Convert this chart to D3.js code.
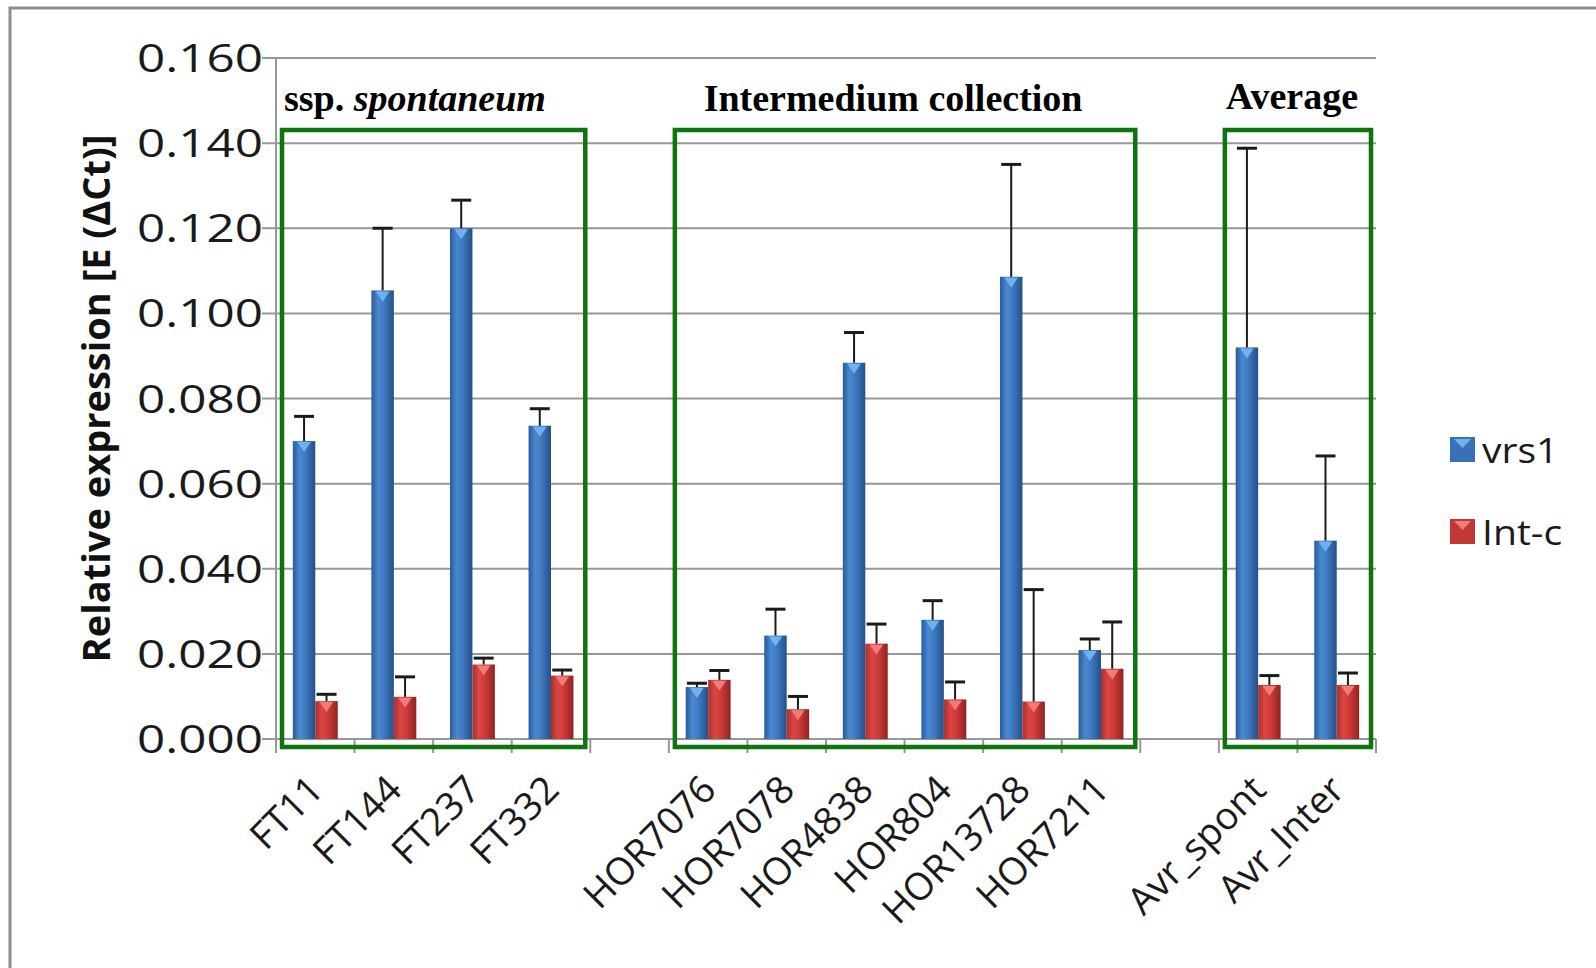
<!DOCTYPE html>
<html>
<head>
<meta charset="utf-8">
<script src="https://cdn.jsdelivr.net/npm/d3@7"></script>
<style>
  html, body { margin: 0; padding: 0; background: #fff; }
  svg { display: block; }
</style>
</head>
<body>
<div id="chart"></div>
<script>
// categories (empty strings are the spacer slots between groups)
const categories = ["FT11", "FT144", "FT237", "FT332", "",
    "HOR7076", "HOR7078", "HOR4838", "HOR804", "HOR13728", "HOR7211", "",
    "Avr_spont", "Avr_Inter"];

// vrs1 means and upper error
const vrs1 = [0.0700, 0.1054, 0.1200, 0.0736, null,
    0.0122, 0.0243, 0.0884, 0.0280, 0.1086, 0.0209, null,
    0.0920, 0.0466];
const vrs1Err = [0.0058, 0.0146, 0.0066, 0.0040, null,
    0.0009, 0.0062, 0.0071, 0.0045, 0.0264, 0.0026, null,
    0.0468, 0.0199];

// Int-c means and upper error
const intc = [0.0089, 0.0099, 0.0175, 0.0149, null,
    0.0139, 0.0070, 0.0224, 0.0093, 0.0088, 0.0165, null,
    0.0127, 0.0127];
const intcErr = [0.0016, 0.0047, 0.0015, 0.0013, null,
    0.0022, 0.0030, 0.0046, 0.0041, 0.0263, 0.0110, null,
    0.0022, 0.0028];

const yTicks = [0, 0.02, 0.04, 0.06, 0.08, 0.10, 0.12, 0.14, 0.16];

const seriesNames = ["vrs1", "Int-c"];

// groups: label, first and last category index
const groupNames = ["ssp. ", "Intermedium collection", "Average"];
const groupFirst = [0, 5, 12];
const groupLast = [3, 10, 13];

const width = 1596, height = 968;
const svg = d3.select("#chart").append("svg")
    .attr("width", width)
    .attr("height", height);

const defs = svg.append("defs");
function barGradient(id, stops) {
    const g = defs.append("linearGradient").attr("id", id)
        .attr("x1", "0%").attr("x2", "100%").attr("y1", "0%").attr("y2", "0%");
    stops.forEach(s => g.append("stop").attr("offset", s[0]).attr("stop-color", s[1]));
}
barGradient("gBlue", [["0%", "#2a5a98"], ["30%", "#4a88d0"], ["55%", "#3f7bc2"], ["100%", "#254f88"]]);
barGradient("gRed", [["0%", "#a8302e"], ["30%", "#dc4644"], ["55%", "#cf3b39"], ["100%", "#8f2422"]]);
const fills = ["url(#gBlue)", "url(#gRed)"];
const tipFills = ["#6fb2f0", "#f27a78"];
const legendFills = ["#3a70b8", "#c23836"];

// outer frame
svg.append("rect")
    .attr("x", 10).attr("y", 8)
    .attr("width", 1640).attr("height", 1000)
    .attr("fill", "none")
    .attr("stroke", "#8e8e8e")
    .attr("stroke-width", 3);

const left = 276, right = 1376;
const y = d3.scaleLinear().domain([0, 0.16]).range([739, 58]);
const x = d3.scaleBand().domain(d3.range(categories.length)).range([left, right]);
const bw = x.bandwidth() / 3.5;
const xs = d3.scaleBand().domain([0, 1]).range([0.75 * bw, 2.75 * bw]);

// gridlines
svg.append("g").selectAll("line")
    .data(yTicks).enter().append("line")
    .attr("x1", left - 14).attr("x2", right)
    .attr("y1", d => y(d)).attr("y2", d => y(d))
    .attr("stroke", "#979797").attr("stroke-width", 2);

// y axis line
svg.append("line")
    .attr("x1", left).attr("x2", left)
    .attr("y1", y(0.16)).attr("y2", y(0) + 14)
    .attr("stroke", "#979797").attr("stroke-width", 2);

// x tick marks at band edges
svg.append("g").selectAll("line")
    .data(d3.range(categories.length + 1)).enter().append("line")
    .attr("x1", i => i < categories.length ? x(i) : right)
    .attr("x2", i => i < categories.length ? x(i) : right)
    .attr("y1", y(0)).attr("y2", y(0) + 14)
    .attr("stroke", "#979797").attr("stroke-width", 2);

// y tick labels
svg.append("g").selectAll("text")
    .data(yTicks).enter().append("text")
    .attr("transform", d => `translate(${left - 13},${y(d) + 14}) scale(1.3,1)`)
    .attr("text-anchor", "end")
    .attr("font-family", "'Open Sans', sans-serif")
    .attr("font-size", 38)
    .attr("fill", "#1a1a1a")
    .text(d => d3.format(".3f")(d));

// y title
svg.append("text")
    .attr("transform", `translate(110,${y(0.08)}) rotate(-90)`)
    .attr("text-anchor", "middle")
    .attr("font-family", "'Open Sans', sans-serif")
    .attr("font-weight", "bold")
    .attr("font-size", 38)
    .attr("fill", "#111")
    .text("Relative expression [E (\u0394Ct)]");

// bars
const series = [
    { vals: vrs1, errs: vrs1Err },
    { vals: intc, errs: intcErr }
];
series.forEach((s, si) => {
    const pts = categories.map((c, i) => ({ i, v: s.vals[i], e: s.errs[i] }))
        .filter(d => d.v != null);
    const g = svg.append("g");
    const bx = d => x(d.i) + xs(si);
    g.selectAll("rect").data(pts).enter().append("rect")
        .attr("x", bx)
        .attr("y", d => y(d.v))
        .attr("width", xs.bandwidth())
        .attr("height", d => y(0) - y(d.v))
        .attr("fill", fills[si]);
    // small bevel triangle at the top of each bar
    g.selectAll("path.tip").data(pts).enter().append("path")
        .attr("class", "tip")
        .attr("d", d => {
            const x0 = bx(d), w = xs.bandwidth(), t = y(d.v);
            return `M${x0 + w * 0.2},${t + 1}L${x0 + w * 0.8},${t + 1}L${x0 + w * 0.5},${t + 11}Z`;
        })
        .attr("fill", tipFills[si]);
    // error bars (plus direction only)
    g.selectAll("line.err").data(pts).enter().append("line")
        .attr("class", "err")
        .attr("x1", d => bx(d) + xs.bandwidth() / 2)
        .attr("x2", d => bx(d) + xs.bandwidth() / 2)
        .attr("y1", d => y(d.v))
        .attr("y2", d => y(d.v + d.e))
        .attr("stroke", "#1a1a1a").attr("stroke-width", 2);
    g.selectAll("line.cap").data(pts).enter().append("line")
        .attr("class", "cap")
        .attr("x1", d => bx(d) + xs.bandwidth() / 2 - 10)
        .attr("x2", d => bx(d) + xs.bandwidth() / 2 + 10)
        .attr("y1", d => y(d.v + d.e))
        .attr("y2", d => y(d.v + d.e))
        .attr("stroke", "#1a1a1a").attr("stroke-width", 3);
});

// group boxes and titles
const boxTop = 130, boxBottom = y(0) + 8;
groupNames.forEach((name, gi) => {
    const x0 = x(groupFirst[gi]) + 6;
    const x1 = x(groupLast[gi]) + x.bandwidth() - 5;
    svg.append("rect")
        .attr("x", x0).attr("y", boxTop)
        .attr("width", x1 - x0).attr("height", boxBottom - boxTop)
        .attr("fill", "none")
        .attr("stroke", "#0e740e")
        .attr("stroke-width", 4.5);
    const t = svg.append("text")
        .attr("x", gi === 0 ? x0 + 2 : (x0 + x1) / 2 - (gi === 2 ? 6 : 12))
        .attr("y", gi === 2 ? 109 : 111)
        .attr("text-anchor", gi === 0 ? "start" : "middle")
        .attr("font-family", "'Liberation Serif', 'Times New Roman', serif")
        .attr("font-weight", "bold")
        .attr("font-size", 38)
        .attr("fill", "#000");
    t.append("tspan").text(name);
    if (gi === 0) t.append("tspan").attr("font-style", "italic").text("spontaneum");
});

// x labels
svg.append("g").selectAll("text")
    .data(categories.map((c, i) => ({ c, i })).filter(d => d.c)).enter().append("text")
    .attr("transform", d => `translate(${x(d.i) + x.bandwidth() / 2 + 10},${y(0) + 53}) rotate(-45)`)
    .attr("text-anchor", "end")
    .attr("font-family", "'Open Sans', sans-serif")
    .attr("font-size", 38)
    .attr("fill", "#1a1a1a")
    .text(d => d.c);

// legend
const legend = svg.append("g");
seriesNames.forEach((n, i) => {
    const ly = 437 + i * 82;
    legend.append("rect")
        .attr("x", 1450).attr("y", ly)
        .attr("width", 25).attr("height", 25)
        .attr("fill", legendFills[i]);
    legend.append("path")
        .attr("d", `M1454,${ly + 2}L1471,${ly + 2}L1462.5,${ly + 11}Z`)
        .attr("fill", tipFills[i]);
    legend.append("text")
        .attr("transform", `translate(1482,${ly + 26}) scale(1.15,1)`)
        .attr("font-family", "'Open Sans', sans-serif")
        .attr("font-size", 34)
        .attr("fill", "#1a1a1a")
        .text(n);
});
</script>
</body>
</html>
